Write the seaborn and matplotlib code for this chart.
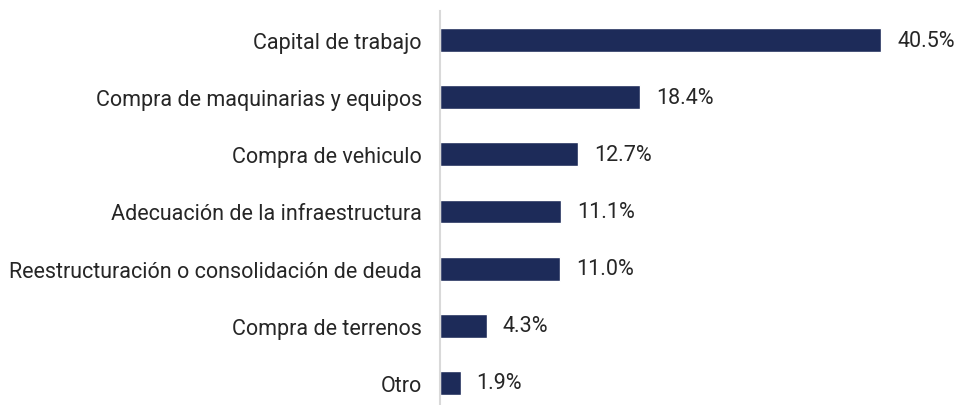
import matplotlib
matplotlib.use("Agg")
import matplotlib.pyplot as plt
import seaborn as sns
import pandas as pd

categories = [
    "Capital de trabajo",
    "Compra de maquinarias y equipos",
    "Compra de vehiculo",
    "Adecuación de la infraestructura",
    "Reestructuración o consolidación de deuda",
    "Compra de terrenos",
    "Otro",
]
values = [40.5, 18.4, 12.7, 11.1, 11.0, 4.3, 1.9]
value_labels = ["40.5%", "18.4%", "12.7%", "11.1%", "11.0%", "4.3%", "1.9%"]

df = pd.DataFrame({"cat": categories, "val": values})

sns.set_style("white")
plt.rcParams["font.family"] = ["Roboto", "DejaVu Sans"]

fig = plt.figure(figsize=(9.58, 4.06), dpi=100)
ax = fig.add_axes([440 / 958, 1 - 405 / 406, (953 - 440) / 958, (405 - 12) / 406])

sns.barplot(data=df, x="val", y="cat", orient="h", color="#1d2b59",
            saturation=1, width=0.42, ax=ax)

for bar, lab in zip(ax.patches, value_labels):
    ax.annotate(lab, (bar.get_width(), bar.get_y() + bar.get_height() / 2),
                xytext=(11.5, 0), textcoords="offset points",
                ha="left", va="center", fontsize=15.5, color="#262626")

ax.set_xlim(0, (953 - 440) / 10.89)
ax.set_ylim(6.37, -0.51)
ax.set_xlabel("")
ax.set_ylabel("")
ax.set_xticks([])
for s in ["top", "right", "bottom"]:
    ax.spines[s].set_visible(False)
ax.spines["left"].set_color("#d9d9d9")
ax.spines["left"].set_linewidth(1.5)
ax.tick_params(axis="y", length=0, pad=13, labelsize=15.5, labelcolor="#262626")

fig.savefig("out.png", dpi=100)
